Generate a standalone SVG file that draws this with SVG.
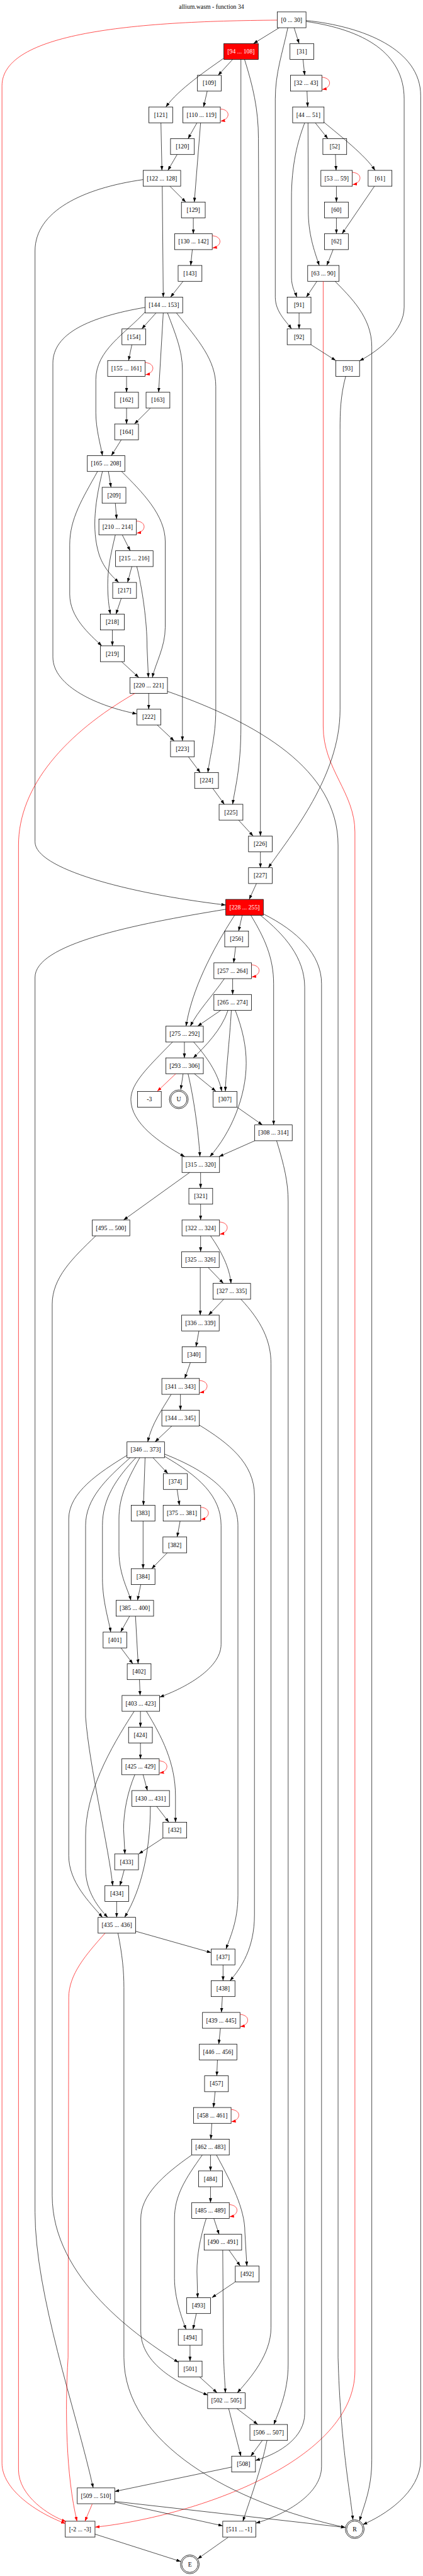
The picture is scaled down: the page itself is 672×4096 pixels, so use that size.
<svg xmlns="http://www.w3.org/2000/svg" width="672" height="4096" viewBox="0 0 672 4096">
<style>
.n rect,.n circle{fill:#fff;stroke:#000;stroke-width:1.5}
.nr rect{fill:#f00;stroke:#000;stroke-width:1.5}
text{font-family:"Liberation Serif","Times New Roman",serif;font-size:18.67px;text-anchor:middle;fill:#000}
.nr text{fill:#fff}
.e{fill:none;stroke:#000;stroke-width:1.33;marker-end:url(#ab)}
.r{fill:none;stroke:#f00;stroke-width:1.33;marker-end:url(#ar)}
</style>
<defs>
<marker id="ab" viewBox="0 0 13.3 9.4" refX="13.3" refY="4.7" markerWidth="13.3" markerHeight="9.4" markerUnits="userSpaceOnUse" orient="auto"><path d="M0,0 L13.3,4.7 L0,9.4 z" fill="#000"/></marker>
<marker id="ar" viewBox="0 0 13.3 9.4" refX="13.3" refY="4.7" markerWidth="13.3" markerHeight="9.4" markerUnits="userSpaceOnUse" orient="auto"><path d="M0,0 L13.3,4.7 L0,9.4 z" fill="#f00"/></marker>
</defs>
<rect width="672" height="4096" fill="#fff"/>
<g transform="scale(0.525)">
<text x="640" y="26.5">allium.wasm - function 34</text>
<g id="nodes">
<g id="n0" class="n" transform="translate(882.5,60)"><rect x="-43.5" y="-24" width="87" height="48"/><text y="6">[0 ... 30]</text></g>
<g id="n94" class="nr" transform="translate(729.5,156)"><rect x="-52" y="-24" width="104" height="48"/><text y="6">[94 ... 108]</text></g>
<g id="n31" class="n" transform="translate(913.5,156)"><rect x="-36" y="-24" width="72" height="48"/><text y="6">[31]</text></g>
<g id="n109" class="n" transform="translate(633.5,252)"><rect x="-36" y="-24" width="72" height="48"/><text y="6">[109]</text></g>
<g id="n32" class="n" transform="translate(926.5,252)"><rect x="-47.5" y="-24" width="95" height="48"/><text y="6">[32 ... 43]</text></g>
<g id="n121" class="n" transform="translate(486.5,348)"><rect x="-36" y="-24" width="72" height="48"/><text y="6">[121]</text></g>
<g id="n110" class="n" transform="translate(610,348)"><rect x="-56.75" y="-24" width="113.5" height="48"/><text y="6">[110 ... 119]</text></g>
<g id="n44" class="n" transform="translate(933,348)"><rect x="-47.5" y="-24" width="95" height="48"/><text y="6">[44 ... 51]</text></g>
<g id="n120" class="n" transform="translate(552,444)"><rect x="-36" y="-24" width="72" height="48"/><text y="6">[120]</text></g>
<g id="n52" class="n" transform="translate(1013,444)"><rect x="-36" y="-24" width="72" height="48"/><text y="6">[52]</text></g>
<g id="n122" class="n" transform="translate(490,540)"><rect x="-56.75" y="-24" width="113.5" height="48"/><text y="6">[122 ... 128]</text></g>
<g id="n53" class="n" transform="translate(1018.5,540)"><rect x="-47.5" y="-24" width="95" height="48"/><text y="6">[53 ... 59]</text></g>
<g id="n61" class="n" transform="translate(1150,540)"><rect x="-36" y="-24" width="72" height="48"/><text y="6">[61]</text></g>
<g id="n129" class="n" transform="translate(585,636)"><rect x="-36" y="-24" width="72" height="48"/><text y="6">[129]</text></g>
<g id="n60" class="n" transform="translate(1018,636)"><rect x="-36" y="-24" width="72" height="48"/><text y="6">[60]</text></g>
<g id="n130" class="n" transform="translate(585.5,732)"><rect x="-56.75" y="-24" width="113.5" height="48"/><text y="6">[130 ... 142]</text></g>
<g id="n62" class="n" transform="translate(1018,732)"><rect x="-36" y="-24" width="72" height="48"/><text y="6">[62]</text></g>
<g id="n143" class="n" transform="translate(575,828)"><rect x="-36" y="-24" width="72" height="48"/><text y="6">[143]</text></g>
<g id="n63" class="n" transform="translate(978.5,828)"><rect x="-47.5" y="-24" width="95" height="48"/><text y="6">[63 ... 90]</text></g>
<g id="n144" class="n" transform="translate(496,924)"><rect x="-56.75" y="-24" width="113.5" height="48"/><text y="6">[144 ... 153]</text></g>
<g id="n91" class="n" transform="translate(905,924)"><rect x="-36" y="-24" width="72" height="48"/><text y="6">[91]</text></g>
<g id="n154" class="n" transform="translate(405,1020)"><rect x="-36" y="-24" width="72" height="48"/><text y="6">[154]</text></g>
<g id="n92" class="n" transform="translate(905,1020)"><rect x="-36" y="-24" width="72" height="48"/><text y="6">[92]</text></g>
<g id="n155" class="n" transform="translate(382.5,1116)"><rect x="-56.75" y="-24" width="113.5" height="48"/><text y="6">[155 ... 161]</text></g>
<g id="n93" class="n" transform="translate(1052,1116)"><rect x="-36" y="-24" width="72" height="48"/><text y="6">[93]</text></g>
<g id="n162" class="n" transform="translate(383,1212)"><rect x="-36" y="-24" width="72" height="48"/><text y="6">[162]</text></g>
<g id="n163" class="n" transform="translate(478,1212)"><rect x="-36" y="-24" width="72" height="48"/><text y="6">[163]</text></g>
<g id="n164" class="n" transform="translate(383,1308)"><rect x="-36" y="-24" width="72" height="48"/><text y="6">[164]</text></g>
<g id="n165" class="n" transform="translate(321,1404)"><rect x="-56.75" y="-24" width="113.5" height="48"/><text y="6">[165 ... 208]</text></g>
<g id="n209" class="n" transform="translate(345,1500)"><rect x="-36" y="-24" width="72" height="48"/><text y="6">[209]</text></g>
<g id="n210" class="n" transform="translate(356,1596)"><rect x="-56.75" y="-24" width="113.5" height="48"/><text y="6">[210 ... 214]</text></g>
<g id="n215" class="n" transform="translate(406.5,1692)"><rect x="-56.75" y="-24" width="113.5" height="48"/><text y="6">[215 ... 216]</text></g>
<g id="n217" class="n" transform="translate(377,1788)"><rect x="-36" y="-24" width="72" height="48"/><text y="6">[217]</text></g>
<g id="n218" class="n" transform="translate(340,1884)"><rect x="-36" y="-24" width="72" height="48"/><text y="6">[218]</text></g>
<g id="n219" class="n" transform="translate(340,1980)"><rect x="-36" y="-24" width="72" height="48"/><text y="6">[219]</text></g>
<g id="n220" class="n" transform="translate(450,2076)"><rect x="-56.75" y="-24" width="113.5" height="48"/><text y="6">[220 ... 221]</text></g>
<g id="n222" class="n" transform="translate(450.5,2172)"><rect x="-36" y="-24" width="72" height="48"/><text y="6">[222]</text></g>
<g id="n223" class="n" transform="translate(552,2268)"><rect x="-36" y="-24" width="72" height="48"/><text y="6">[223]</text></g>
<g id="n224" class="n" transform="translate(625,2364)"><rect x="-36" y="-24" width="72" height="48"/><text y="6">[224]</text></g>
<g id="n225" class="n" transform="translate(699,2460)"><rect x="-36" y="-24" width="72" height="48"/><text y="6">[225]</text></g>
<g id="n226" class="n" transform="translate(788,2556)"><rect x="-36" y="-24" width="72" height="48"/><text y="6">[226]</text></g>
<g id="n227" class="n" transform="translate(788,2652)"><rect x="-36" y="-24" width="72" height="48"/><text y="6">[227]</text></g>
<g id="n228" class="nr" transform="translate(740,2748)"><rect x="-56.75" y="-24" width="113.5" height="48"/><text y="6">[228 ... 255]</text></g>
<g id="n256" class="n" transform="translate(716,2844)"><rect x="-36" y="-24" width="72" height="48"/><text y="6">[256]</text></g>
<g id="n257" class="n" transform="translate(704,2940)"><rect x="-56.75" y="-24" width="113.5" height="48"/><text y="6">[257 ... 264]</text></g>
<g id="n265" class="n" transform="translate(704,3036)"><rect x="-56.75" y="-24" width="113.5" height="48"/><text y="6">[265 ... 274]</text></g>
<g id="n275" class="n" transform="translate(558.5,3132)"><rect x="-56.75" y="-24" width="113.5" height="48"/><text y="6">[275 ... 292]</text></g>
<g id="n293" class="n" transform="translate(558.5,3228)"><rect x="-56.75" y="-24" width="113.5" height="48"/><text y="6">[293 ... 306]</text></g>
<g id="nm3" class="n" transform="translate(452,3329.5)"><rect x="-36" y="-24" width="72" height="48"/><text y="6">-3</text></g>
<g id="nU" class="n" transform="translate(541,3329.5)"><circle r="28.5"/><circle r="24.5"/><text y="6">U</text></g>
<g id="n307" class="n" transform="translate(681,3329.5)"><rect x="-36" y="-24" width="72" height="48"/><text y="6">[307]</text></g>
<g id="n308" class="n" transform="translate(827.5,3431)"><rect x="-56.75" y="-24" width="113.5" height="48"/><text y="6">[308 ... 314]</text></g>
<g id="n315" class="n" transform="translate(607.5,3527)"><rect x="-56.75" y="-24" width="113.5" height="48"/><text y="6">[315 ... 320]</text></g>
<g id="n321" class="n" transform="translate(607.5,3623)"><rect x="-36" y="-24" width="72" height="48"/><text y="6">[321]</text></g>
<g id="n495" class="n" transform="translate(336,3719)"><rect x="-56.75" y="-24" width="113.5" height="48"/><text y="6">[495 ... 500]</text></g>
<g id="n322" class="n" transform="translate(607.5,3719)"><rect x="-56.75" y="-24" width="113.5" height="48"/><text y="6">[322 ... 324]</text></g>
<g id="n325" class="n" transform="translate(606.5,3815)"><rect x="-56.75" y="-24" width="113.5" height="48"/><text y="6">[325 ... 326]</text></g>
<g id="n327" class="n" transform="translate(701.5,3911)"><rect x="-56.75" y="-24" width="113.5" height="48"/><text y="6">[327 ... 335]</text></g>
<g id="n336" class="n" transform="translate(606.5,4007)"><rect x="-56.75" y="-24" width="113.5" height="48"/><text y="6">[336 ... 339]</text></g>
<g id="n340" class="n" transform="translate(587,4103)"><rect x="-36" y="-24" width="72" height="48"/><text y="6">[340]</text></g>
<g id="n341" class="n" transform="translate(546.5,4199)"><rect x="-56.75" y="-24" width="113.5" height="48"/><text y="6">[341 ... 343]</text></g>
<g id="n344" class="n" transform="translate(546.5,4295)"><rect x="-56.75" y="-24" width="113.5" height="48"/><text y="6">[344 ... 345]</text></g>
<g id="n346" class="n" transform="translate(441,4391)"><rect x="-56.75" y="-24" width="113.5" height="48"/><text y="6">[346 ... 373]</text></g>
<g id="n374" class="n" transform="translate(530.5,4487)"><rect x="-36" y="-24" width="72" height="48"/><text y="6">[374]</text></g>
<g id="n383" class="n" transform="translate(433,4583)"><rect x="-36" y="-24" width="72" height="48"/><text y="6">[383]</text></g>
<g id="n375" class="n" transform="translate(550.5,4583)"><rect x="-56.75" y="-24" width="113.5" height="48"/><text y="6">[375 ... 381]</text></g>
<g id="n382" class="n" transform="translate(529,4679)"><rect x="-36" y="-24" width="72" height="48"/><text y="6">[382]</text></g>
<g id="n384" class="n" transform="translate(433,4775)"><rect x="-36" y="-24" width="72" height="48"/><text y="6">[384]</text></g>
<g id="n385" class="n" transform="translate(408,4871)"><rect x="-56.75" y="-24" width="113.5" height="48"/><text y="6">[385 ... 400]</text></g>
<g id="n401" class="n" transform="translate(348,4967)"><rect x="-36" y="-24" width="72" height="48"/><text y="6">[401]</text></g>
<g id="n402" class="n" transform="translate(421,5063)"><rect x="-36" y="-24" width="72" height="48"/><text y="6">[402]</text></g>
<g id="n403" class="n" transform="translate(426,5159)"><rect x="-56.75" y="-24" width="113.5" height="48"/><text y="6">[403 ... 423]</text></g>
<g id="n424" class="n" transform="translate(425,5255)"><rect x="-36" y="-24" width="72" height="48"/><text y="6">[424]</text></g>
<g id="n425" class="n" transform="translate(425,5351)"><rect x="-56.75" y="-24" width="113.5" height="48"/><text y="6">[425 ... 429]</text></g>
<g id="n430" class="n" transform="translate(456,5447)"><rect x="-56.75" y="-24" width="113.5" height="48"/><text y="6">[430 ... 431]</text></g>
<g id="n432" class="n" transform="translate(529,5543)"><rect x="-36" y="-24" width="72" height="48"/><text y="6">[432]</text></g>
<g id="n433" class="n" transform="translate(383,5639)"><rect x="-36" y="-24" width="72" height="48"/><text y="6">[433]</text></g>
<g id="n434" class="n" transform="translate(353.5,5735)"><rect x="-36" y="-24" width="72" height="48"/><text y="6">[434]</text></g>
<g id="n435" class="n" transform="translate(353.5,5831)"><rect x="-56.75" y="-24" width="113.5" height="48"/><text y="6">[435 ... 436]</text></g>
<g id="n437" class="n" transform="translate(675,5927)"><rect x="-36" y="-24" width="72" height="48"/><text y="6">[437]</text></g>
<g id="n438" class="n" transform="translate(675,6023)"><rect x="-36" y="-24" width="72" height="48"/><text y="6">[438]</text></g>
<g id="n439" class="n" transform="translate(669.5,6119)"><rect x="-56.75" y="-24" width="113.5" height="48"/><text y="6">[439 ... 445]</text></g>
<g id="n446" class="n" transform="translate(660,6215)"><rect x="-56.75" y="-24" width="113.5" height="48"/><text y="6">[446 ... 456]</text></g>
<g id="n457" class="n" transform="translate(655,6311)"><rect x="-36" y="-24" width="72" height="48"/><text y="6">[457]</text></g>
<g id="n458" class="n" transform="translate(642.5,6407)"><rect x="-56.75" y="-24" width="113.5" height="48"/><text y="6">[458 ... 461]</text></g>
<g id="n462" class="n" transform="translate(637,6503)"><rect x="-56.75" y="-24" width="113.5" height="48"/><text y="6">[462 ... 483]</text></g>
<g id="n484" class="n" transform="translate(637,6599)"><rect x="-36" y="-24" width="72" height="48"/><text y="6">[484]</text></g>
<g id="n485" class="n" transform="translate(637,6695)"><rect x="-56.75" y="-24" width="113.5" height="48"/><text y="6">[485 ... 489]</text></g>
<g id="n490" class="n" transform="translate(674.5,6791)"><rect x="-56.75" y="-24" width="113.5" height="48"/><text y="6">[490 ... 491]</text></g>
<g id="n492" class="n" transform="translate(748,6887)"><rect x="-36" y="-24" width="72" height="48"/><text y="6">[492]</text></g>
<g id="n493" class="n" transform="translate(601,6983)"><rect x="-36" y="-24" width="72" height="48"/><text y="6">[493]</text></g>
<g id="n494" class="n" transform="translate(575.5,7079)"><rect x="-36" y="-24" width="72" height="48"/><text y="6">[494]</text></g>
<g id="n501" class="n" transform="translate(575.5,7175)"><rect x="-36" y="-24" width="72" height="48"/><text y="6">[501]</text></g>
<g id="n502" class="n" transform="translate(685,7271)"><rect x="-56.75" y="-24" width="113.5" height="48"/><text y="6">[502 ... 505]</text></g>
<g id="n506" class="n" transform="translate(813,7367)"><rect x="-56.75" y="-24" width="113.5" height="48"/><text y="6">[506 ... 507]</text></g>
<g id="n508" class="n" transform="translate(737,7463)"><rect x="-36" y="-24" width="72" height="48"/><text y="6">[508]</text></g>
<g id="n509" class="n" transform="translate(290.5,7559)"><rect x="-56.75" y="-24" width="113.5" height="48"/><text y="6">[509 ... 510]</text></g>
<g id="nm2" class="n" transform="translate(242.5,7660)"><rect x="-45" y="-24" width="90" height="48"/><text y="6">[-2 ... -3]</text></g>
<g id="n511" class="n" transform="translate(724,7660)"><rect x="-50" y="-24" width="100" height="48"/><text y="6">[511 ... -1]</text></g>
<g id="nR" class="n" transform="translate(1073.5,7660)"><circle r="28.5"/><circle r="24.5"/><text y="6">R</text></g>
<g id="nE" class="n" transform="translate(574.5,7766.5)"><circle r="28.5"/><circle r="24.5"/><text y="6">E</text></g>
</g>
<g id="edges">
<path class="e" d="M845,84 L767,132"/>
<path class="e" d="M890,84 L905,132"/>
<path class="e" d="M871,84 C855,160 833,220 833,300 L833,900 C833,945 868,975 882,996"/>
<path class="e" d="M926,62 C1100,80 1273,150 1273,290 L1273,7450 C1273,7550 1160,7620 1098,7646"/>
<path class="e" d="M926,65 C1100,90 1223,160 1223,300 L1223,930 C1223,1000 1150,1060 1088,1093"/>
<path class="r" d="M839,61 C400,64 6,100 6,260 L6,7460 C6,7540 110,7610 198,7643"/>
<path class="e" d="M704,180 L660,228"/>
<path class="e" d="M676,177 C630,210 540,270 502,324"/>
<path class="e" d="M729,180 L729,2200 C729,2330 710,2390 704,2436"/>
<path class="e" d="M740,180 C765,260 782,330 782,420 L788,1800 L788,2532"/>
<path class="e" d="M917,180 L922,228"/>
<path class="e" d="M929,276 L931,324"/>
<path class="e" d="M627,276 L616,324"/>
<path class="e" d="M596,372 L569,420"/>
<path class="e" d="M607,372 L588,612"/>
<path class="e" d="M487,372 L490,516"/>
<path class="e" d="M536,468 L508,516"/>
<path class="e" d="M514,564 L562,612"/>
<path class="e" d="M491,564 L494,900"/>
<path class="e" d="M433,544 C250,570 106,640 106,760 L106,2550 C106,2630 380,2705 683,2741"/>
<path class="e" d="M954,372 L992,420"/>
<path class="e" d="M980,370 C1030,412 1105,470 1135,516"/>
<path class="e" d="M922,372 C900,430 882,500 882,600 L882,840 C882,870 895,890 898,900"/>
<path class="e" d="M932,372 L933,650 C935,720 955,770 966,804"/>
<path class="e" d="M1015,468 L1017,516"/>
<path class="e" d="M1018,564 L1018,612"/>
<path class="e" d="M1133,564 L1035,708"/>
<path class="e" d="M1018,660 L1018,708"/>
<path class="e" d="M1008,756 L989,804"/>
<path class="e" d="M959,852 L927,900"/>
<path class="e" d="M1014,852 C1060,900 1125,960 1125,1050 L1125,7450 C1125,7540 1100,7590 1088,7635"/>
<path class="r" d="M978,852 L978,2200 C978,2330 1074,2400 1074,2520 L1074,7180 C1074,7450 600,7620 288,7654"/>
<path class="e" d="M905,948 L905,996"/>
<path class="e" d="M941,1044 L1016,1092"/>
<path class="e" d="M1046,1140 C1030,1200 1029,1250 1029,1300 L1029,2150 C1029,2350 880,2530 812,2628"/>
<path class="e" d="M585,660 L585,708"/>
<path class="e" d="M582,756 L577,804"/>
<path class="e" d="M554,852 L516,900"/>
<path class="e" d="M472,948 L429,996"/>
<path class="e" d="M494,948 L480,1188"/>
<path class="e" d="M507,948 C530,1010 552,1060 552,1120 L552,2244"/>
<path class="e" d="M534,948 C600,1030 653,1090 653,1170 L653,2150 C653,2230 635,2290 629,2340"/>
<path class="e" d="M439,931 C270,960 160,1010 160,1100 L160,1990 C160,2080 300,2140 414,2162"/>
<path class="e" d="M439,945 C380,1010 290,1060 290,1150 L290,1250 C290,1300 305,1350 310,1380"/>
<path class="e" d="M399,1044 L389,1092"/>
<path class="e" d="M383,1140 L383,1188"/>
<path class="e" d="M383,1236 L383,1284"/>
<path class="e" d="M455,1236 L407,1284"/>
<path class="e" d="M367,1332 L337,1380"/>
<path class="e" d="M328,1428 L336,1476"/>
<path class="e" d="M310,1428 C290,1510 275,1600 300,1680 C315,1725 345,1750 359,1764"/>
<path class="e" d="M295,1428 C250,1510 211,1570 211,1650 L211,1800 C211,1870 270,1920 308,1956"/>
<path class="e" d="M368,1428 C430,1490 500,1560 500,1640 L500,1900 C500,1960 470,2010 461,2052"/>
<path class="e" d="M349,1524 L353,1572"/>
<path class="e" d="M370,1620 L394,1668"/>
<path class="e" d="M349,1620 C335,1680 326,1720 326,1770 C326,1810 330,1840 334,1860"/>
<path class="e" d="M399,1716 L386,1764"/>
<path class="e" d="M414,1716 C430,1780 445,1880 445,1960 L449,2052"/>
<path class="e" d="M367,1812 L351,1860"/>
<path class="e" d="M340,1908 L340,1956"/>
<path class="e" d="M368,2004 L420,2052"/>
<path class="e" d="M450,2100 L450,2148"/>
<path class="r" d="M408,2100 C200,2220 56,2380 56,2560 L56,7480 C56,7560 150,7620 200,7637"/>
<path class="e" d="M507,2094 C780,2190 1023,2330 1023,2560 L1023,7140 C1030,7400 1060,7550 1068,7632"/>
<path class="e" d="M476,2196 L527,2244"/>
<path class="e" d="M570,2292 L606,2340"/>
<path class="e" d="M644,2388 L679,2436"/>
<path class="e" d="M722,2484 L766,2532"/>
<path class="e" d="M788,2580 L788,2628"/>
<path class="e" d="M776,2676 L754,2724"/>
<path class="e" d="M733,2772 L722,2820"/>
<path class="e" d="M710,2772 C640,2880 580,3000 563,3108"/>
<path class="e" d="M683,2754 C400,2800 106,2860 106,2960 L106,6700 C106,6950 230,7300 282,7535"/>
<path class="e" d="M759,2772 C800,2840 828,2900 828,2980 L828,3407"/>
<path class="e" d="M788,2772 C860,2830 922,2900 922,2990 L922,7310 C922,7380 850,7430 773,7452"/>
<path class="e" d="M797,2768 C900,2820 973,2890 973,2980 L973,7470 C973,7560 850,7620 774,7642"/>
<path class="e" d="M713,2868 L707,2916"/>
<path class="e" d="M704,2964 L704,3012"/>
<path class="e" d="M679,2964 C640,3020 600,3060 576,3108"/>
<path class="e" d="M668,3060 L598,3108"/>
<path class="e" d="M690,3060 C670,3120 620,3170 585,3204"/>
<path class="e" d="M700,3060 C695,3150 683,3250 682,3305"/>
<path class="e" d="M712,3060 C735,3120 745,3170 745,3220 C745,3320 700,3430 635,3503"/>
<path class="e" d="M558,3156 L558,3204"/>
<path class="e" d="M522,3156 C450,3230 396,3280 396,3330 C396,3400 480,3460 559,3503"/>
<path class="e" d="M586,3156 C625,3200 660,3250 671,3305"/>
<path class="r" d="M532,3252 L476,3305"/>
<path class="e" d="M554,3252 L547,3300"/>
<path class="e" d="M569,3252 C585,3320 600,3420 605,3503"/>
<path class="e" d="M588,3252 L653,3305"/>
<path class="e" d="M717,3353 L794,3407"/>
<path class="e" d="M771,3455 L663,3503"/>
<path class="e" d="M837,3455 C860,3530 872,3580 872,3640 L872,7160 C872,7250 840,7310 829,7343"/>
<path class="e" d="M607,3551 L607,3599"/>
<path class="e" d="M574,3551 L374,3695"/>
<path class="e" d="M607,3647 L607,3695"/>
<path class="e" d="M607,3743 L607,3791"/>
<path class="e" d="M637,3743 C670,3790 695,3840 699,3887"/>
<path class="e" d="M630,3839 L676,3887"/>
<path class="e" d="M606,3839 L606,3983"/>
<path class="e" d="M677,3935 L631,3983"/>
<path class="e" d="M729,3935 C790,4000 820,4060 820,4130 L820,7050 C820,7130 760,7200 718,7247"/>
<path class="e" d="M602,4031 L593,4079"/>
<path class="e" d="M576,4127 L559,4175"/>
<path class="e" d="M546,4223 L546,4271"/>
<path class="e" d="M518,4223 C490,4270 460,4310 447,4367"/>
<path class="e" d="M520,4319 L469,4367"/>
<path class="e" d="M603,4316 C690,4370 770,4430 770,4530 L770,5800 C770,5900 730,5960 696,5999"/>
<path class="e" d="M463,4415 L508,4463"/>
<path class="e" d="M439,4415 L434,4559"/>
<path class="e" d="M384,4408 C300,4460 208,4520 208,4600 L208,5620 C208,5700 270,5760 310,5807"/>
<path class="e" d="M394,4415 C320,4480 259,4540 259,4620 L259,5200 C270,5350 330,5600 341,5711"/>
<path class="e" d="M411,4415 C350,4480 310,4540 310,4620 L310,4780 C310,4850 330,4910 335,4943"/>
<path class="e" d="M423,4415 C380,4490 360,4540 360,4600 L360,4700 C360,4770 390,4820 396,4847"/>
<path class="e" d="M498,4411 C600,4470 669,4530 669,4620 L669,4980 C669,5060 540,5120 483,5140"/>
<path class="e" d="M498,4404 C640,4460 720,4530 720,4620 L720,5740 C720,5820 695,5870 684,5903"/>
<path class="e" d="M536,4511 L543,4559"/>
<path class="e" d="M545,4607 L536,4655"/>
<path class="e" d="M433,4607 L433,4751"/>
<path class="e" d="M506,4703 L459,4751"/>
<path class="e" d="M426,4799 L416,4847"/>
<path class="e" d="M392,4895 L365,4943"/>
<path class="e" d="M410,4895 L418,5039"/>
<path class="e" d="M366,4991 L402,5039"/>
<path class="e" d="M422,5087 L424,5135"/>
<path class="e" d="M425,5183 L425,5231"/>
<path class="e" d="M406,5183 C330,5300 259,5430 259,5560 L259,5660 C259,5730 300,5780 326,5807"/>
<path class="e" d="M443,5183 C490,5260 531,5340 531,5440 L531,5519"/>
<path class="e" d="M425,5279 L425,5327"/>
<path class="e" d="M433,5375 L446,5423"/>
<path class="e" d="M408,5375 C385,5430 374,5490 374,5540 L378,5615"/>
<path class="e" d="M474,5471 L511,5519"/>
<path class="e" d="M455,5471 C455,5600 430,5720 377,5807"/>
<path class="e" d="M493,5567 L420,5615"/>
<path class="e" d="M376,5663 L363,5711"/>
<path class="e" d="M353,5759 L353,5807"/>
<path class="e" d="M410,5849 L639,5914"/>
<path class="r" d="M318,5855 C260,5920 208,5980 208,6050 L206,7140 C196,7300 200,7500 233,7636"/>
<path class="e" d="M357,5855 C370,5920 375,5970 375,6020 L375,7140 C375,7400 700,7580 1045,7655"/>
<path class="e" d="M675,5951 L675,5999"/>
<path class="e" d="M673,6047 L670,6095"/>
<path class="e" d="M667,6143 L662,6191"/>
<path class="e" d="M658,6239 L656,6287"/>
<path class="e" d="M651,6335 L646,6383"/>
<path class="e" d="M641,6431 L638,6479"/>
<path class="e" d="M637,6527 L637,6575"/>
<path class="e" d="M580,6527 C490,6590 426,6650 426,6720 L426,7060 C426,7160 540,7220 629,7254"/>
<path class="e" d="M612,6527 C560,6600 528,6650 528,6720 L528,6900 C528,6960 550,7020 563,7055"/>
<path class="e" d="M655,6527 C700,6610 741,6690 741,6760 L747,6863"/>
<path class="e" d="M637,6623 L637,6671"/>
<path class="e" d="M647,6719 L663,6767"/>
<path class="e" d="M624,6719 C605,6780 596,6830 596,6880 L598,6959"/>
<path class="e" d="M693,6815 L727,6863"/>
<path class="e" d="M674,6815 L676,7100 C677,7180 681,7220 682,7247"/>
<path class="e" d="M712,6911 L641,6959"/>
<path class="e" d="M594,7007 L584,7055"/>
<path class="e" d="M575,7103 L575,7151"/>
<path class="e" d="M290,3743 C220,3810 158,3870 158,3950 L158,6650 C158,6900 420,7080 540,7155"/>
<path class="e" d="M604,7199 L657,7247"/>
<path class="e" d="M717,7295 L780,7343"/>
<path class="e" d="M692,7295 L729,7439"/>
<path class="e" d="M794,7391 L759,7439"/>
<path class="e" d="M808,7391 C790,7480 760,7560 735,7636"/>
<path class="e" d="M701,7472 L347,7546"/>
<path class="r" d="M279,7584 L257,7636"/>
<path class="e" d="M347,7578 L674,7650"/>
<path class="e" d="M347,7576 L1045,7655"/>
<path class="e" d="M287,7675 L547,7758"/>
<path class="e" d="M690,7685 L598,7750"/>
<path class="r" d="M974,234 C1006,236 1004,266 975,271"/>
<path class="r" d="M666.75,330 C698.75,332 696.75,362 667.75,367"/>
<path class="r" d="M1066,522 C1098,524 1096,554 1067,559"/>
<path class="r" d="M642.25,714 C674.25,716 672.25,746 643.25,751"/>
<path class="r" d="M439.25,1098 C471.25,1100 469.25,1130 440.25,1135"/>
<path class="r" d="M412.75,1578 C444.75,1580 442.75,1610 413.75,1615"/>
<path class="r" d="M760.75,2922 C792.75,2924 790.75,2954 761.75,2959"/>
<path class="r" d="M664.25,3701 C696.25,3703 694.25,3733 665.25,3738"/>
<path class="r" d="M603.25,4181 C635.25,4183 633.25,4213 604.25,4218"/>
<path class="r" d="M607.25,4565 C639.25,4567 637.25,4597 608.25,4602"/>
<path class="r" d="M481.75,5333 C513.75,5335 511.75,5365 482.75,5370"/>
<path class="r" d="M726.25,6101 C758.25,6103 756.25,6133 727.25,6138"/>
<path class="r" d="M699.25,6389 C731.25,6391 729.25,6421 700.25,6426"/>
<path class="r" d="M693.75,6677 C725.75,6679 723.75,6709 694.75,6714"/>
</g>
</g>
</svg>
